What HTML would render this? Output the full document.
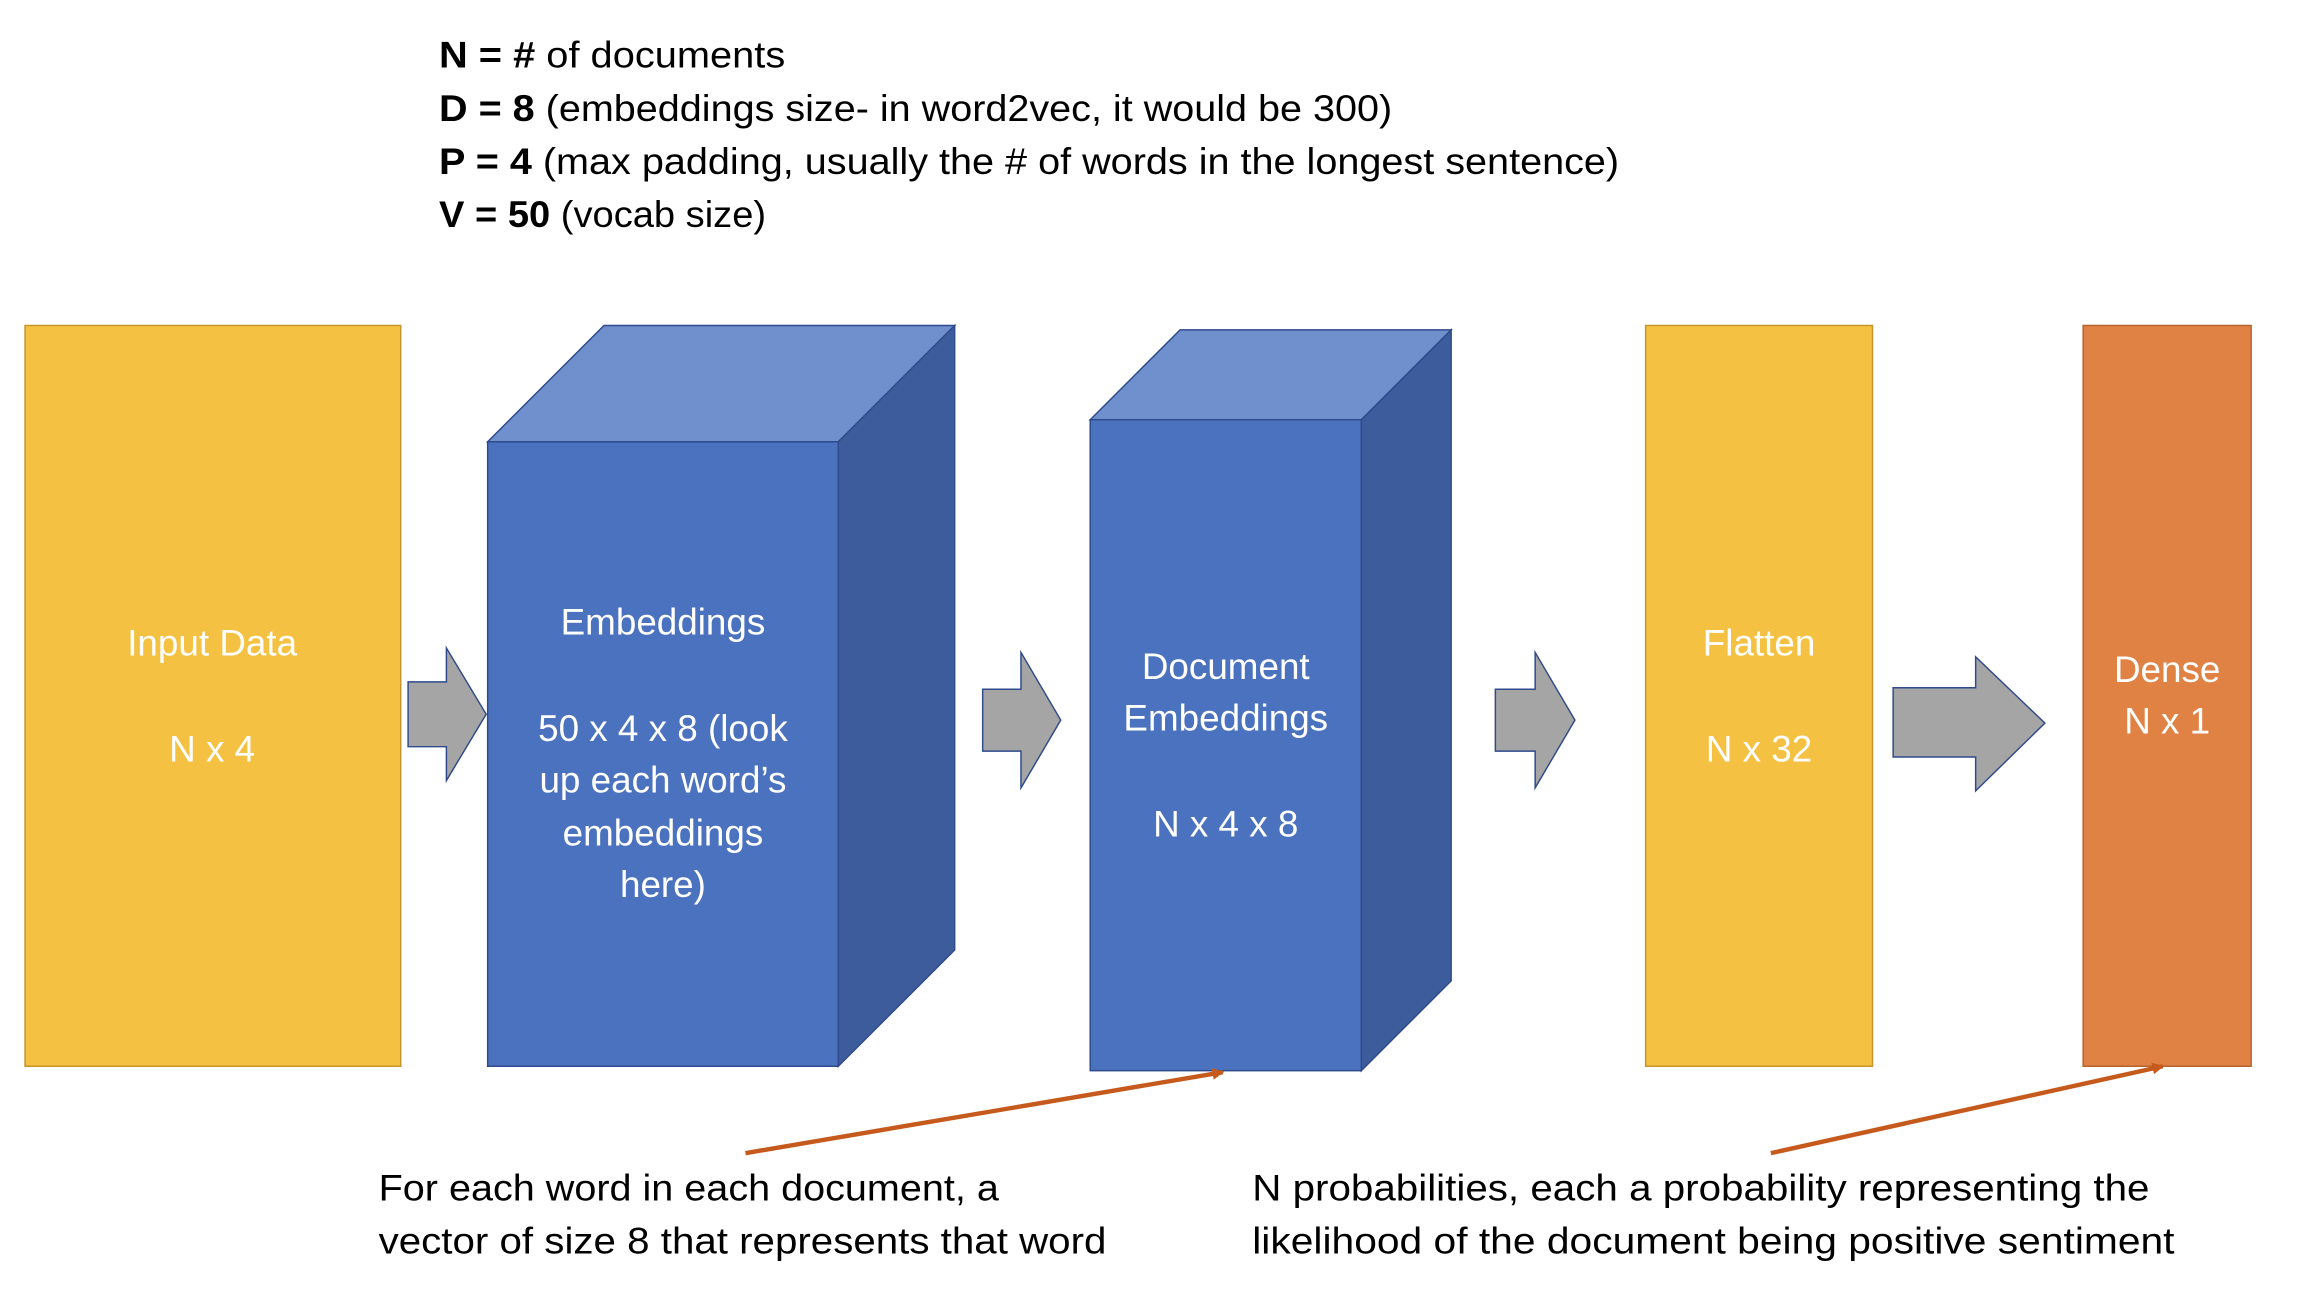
<!DOCTYPE html>
<html><head><meta charset="utf-8"><style>
html,body{margin:0;padding:0;background:#fff;}
svg{display:block;}
text{font-family:"Liberation Sans",sans-serif;}
</style></head><body>
<svg width="2310" height="1292" viewBox="0 0 1546 865" preserveAspectRatio="none" xmlns="http://www.w3.org/2000/svg">
<defs>
<marker id="ah" markerWidth="8" markerHeight="8" refX="7" refY="4" orient="auto" markerUnits="userSpaceOnUse">
<path d="M0,0 L8,4 L0,8 z" fill="#C55A1C"/>
</marker>
</defs>
<g transform="scale(0.986)">
<g font-size="25" fill="#000" lengthAdjust="spacingAndGlyphs">
<text x="298" y="46" textLength="235" lengthAdjust="spacingAndGlyphs"><tspan font-weight="bold">N = #</tspan> of documents</text>
<text x="298" y="82" textLength="647" lengthAdjust="spacingAndGlyphs"><tspan font-weight="bold">D = 8</tspan> (embeddings size- in word2vec, it would be 300)</text>
<text x="298" y="118" textLength="801" lengthAdjust="spacingAndGlyphs"><tspan font-weight="bold">P = 4</tspan> (max padding, usually the # of words in the longest sentence)</text>
<text x="298" y="154" textLength="222" lengthAdjust="spacingAndGlyphs"><tspan font-weight="bold">V = 50</tspan> (vocab size)</text>
</g>
<rect x="17" y="221" width="255" height="503" fill="#F5C143" stroke="#C4952A"/>
<polygon points="331,300 410,221 648,221 569,300" fill="#7090CD" stroke="#2F4B8C"/>
<polygon points="569,300 648,221 648,645 569,724" fill="#3D5C9B" stroke="#2F4B8C"/>
<rect x="331" y="300" width="238" height="424" fill="#4B72BE" stroke="#2F4B8C"/>
<polygon points="740,285 801,224 985,224 924,285" fill="#7090CD" stroke="#2F4B8C"/>
<polygon points="924,285 985,224 985,666 924,727" fill="#3D5C9B" stroke="#2F4B8C"/>
<rect x="740" y="285" width="184" height="442" fill="#4B72BE" stroke="#2F4B8C"/>
<rect x="1117" y="221" width="154" height="503" fill="#F5C143" stroke="#C4952A"/>
<rect x="1414" y="221" width="114" height="503" fill="#E08244" stroke="#B5622C"/>
<g fill="#A5A5A5" stroke="#2F4B8C" stroke-width="1">
<polygon points="277,463 303,463 303,440 330,485 303,530 303,507 277,507"/>
<polygon points="667,468 693,468 693,443 720,489 693,535 693,510 667,510"/>
<polygon points="1015,468 1042,468 1042,443 1069,489 1042,535 1042,510 1015,510"/>
<polygon points="1285,467 1341,467 1341,446 1388,491 1341,537 1341,514 1285,514"/>
</g>
<g fill="#fff" font-size="25" text-anchor="middle">
<text x="144" y="445">Input Data</text>
<text x="144" y="517">N x 4</text>
<text x="450" y="431">Embeddings</text>
<text x="450" y="503">50 x 4 x 8 (look</text>
<text x="450" y="538">up each word’s</text>
<text x="450" y="574">embeddings</text>
<text x="450" y="609">here)</text>
<text x="832" y="461">Document</text>
<text x="832" y="496">Embeddings</text>
<text x="832" y="568">N x 4 x 8</text>
<text x="1194" y="445">Flatten</text>
<text x="1194" y="517">N x 32</text>
<text x="1471" y="463">Dense</text>
<text x="1471" y="498">N x 1</text>
</g>
<line x1="506" y1="783" x2="830" y2="728" stroke="#C55A1C" stroke-width="3" marker-end="url(#ah)"/>
<line x1="1202" y1="783" x2="1468" y2="724" stroke="#C55A1C" stroke-width="3" marker-end="url(#ah)"/>
<g font-size="25" fill="#000">
<text x="257" y="815" textLength="421" lengthAdjust="spacingAndGlyphs">For each word in each document, a</text>
<text x="257" y="851" textLength="494" lengthAdjust="spacingAndGlyphs">vector of size 8 that represents that word</text>
<text x="850" y="815" textLength="609" lengthAdjust="spacingAndGlyphs">N probabilities, each a probability representing the</text>
<text x="850" y="851" textLength="626" lengthAdjust="spacingAndGlyphs">likelihood of the document being positive sentiment</text>
</g>
</g>
</svg>
</body></html>
